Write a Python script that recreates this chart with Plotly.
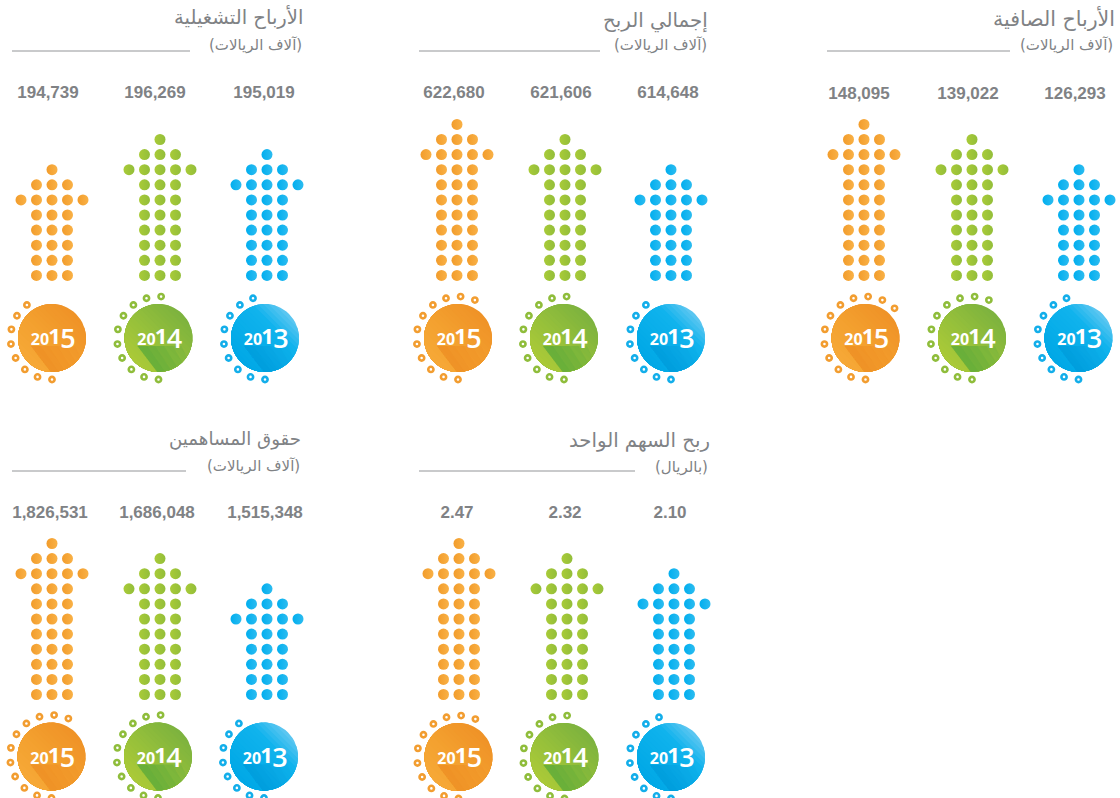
import math
import plotly.graph_objects as go

# ---------- data ----------
years = ["2015", "2014", "2013"]
net_profit = [148095, 139022, 126293]
gross_profit = [622680, 621606, 614648]
operating_profit = [194739, 196269, 195019]
eps = [2.47, 2.32, 2.10]
equity = [1826531, 1686048, 1515348]

net_rows = [8, 7, 5]
gross_rows = [8, 7, 5]
operating_rows = [5, 7, 6]
eps_rows = [8, 7, 6]
equity_rows = [8, 7, 5]

net_rings = [12, 11, 9]
gross_rings = [11, 10, 8]
operating_rings = [8, 10, 9]
eps_rings = [11, 10, 9]
equity_rings = [11, 10, 8]

title_net = "الأرباح الصافية"
title_gross = "إجمالي الربح"
title_operating = "الأرباح التشغيلية"
title_eps = "ربح السهم الواحد"
title_equity = "حقوق المساهمين"
unit_thousands = "(آلاف الريالات)"
unit_riyal = "(بالريال)"

# ---------- layout constants ----------
GREY = "#808285"
LINE = "#939598"
AR_FONT = "DejaVu Sans"
UNIT_SIZE = 15

panels = [
    dict(vals=net_profit, fmt="{:,}", rows=net_rows, rings=net_rings, title=title_net, unit=unit_thousands,
         dots=[864, 972, 1079], circ=[865.5, 972, 1078.5], lab=[859, 968, 1075], laby=94.5,
         base=275.4, cy=338, tx=1117, ty=18, ux=1115, uy=45, line=(827, 1010, 51), ts=20.5),
    dict(vals=gross_profit, fmt="{:,}", rows=gross_rows, rings=gross_rings, title=title_gross, unit=unit_thousands,
         dots=[457, 565, 671], circ=[458, 564, 671], lab=[454, 561, 668], laby=93.5,
         base=275.4, cy=338, tx=710, ty=21, ux=709, uy=45, line=(419, 600, 51), ts=19.8),
    dict(vals=operating_profit, fmt="{:,}", rows=operating_rows, rings=operating_rings, title=title_operating, unit=unit_thousands,
         dots=[52, 160, 267], circ=[52, 158.5, 265], lab=[48, 155, 264], laby=93.5,
         base=275.4, cy=338, tx=305, ty=17, ux=304, uy=45, line=(12, 190, 51), ts=19.6),
    dict(vals=eps, fmt="{:.2f}", rows=eps_rows, rings=eps_rings, title=title_eps, unit=unit_riyal,
         dots=[459, 567, 674], circ=[458.5, 564.5, 671], lab=[457, 565, 670], laby=513.5,
         base=694.5, cy=757, tx=712, ty=440, ux=710, uy=467, line=(419, 635, 471), ts=19.7),
    dict(vals=equity, fmt="{:,}", rows=equity_rows, rings=equity_rings, title=title_equity, unit=unit_thousands,
         dots=[52, 160, 267], circ=[51.5, 158, 264], lab=[50, 157, 265], laby=513.5,
         base=694.5, cy=756.5, tx=303, ty=439, ux=302, uy=466, line=(12, 186, 471), ts=18.2),
]

dot_style = [("#f29c2b", "#f9b146"), ("#a9cb38", "#93be3a"), ("#00aeef", "#2cbcf0")]
ring_color = ["#f29d30", "#8fbd3b", "#13aeea"]
stops = [
    [(0, "#ef9227"), (.5, "#f39f2e"), (1, "#f6a937")],
    [(0, "#7cb23e"), (.5, "#94bf3b"), (1, "#abca38")],
    [(0, "#62c8f1"), (.3, "#10b3ed"), (1, "#00a8e6")],
]
shadow = ["rgba(232,124,24,0.09)", "rgba(70,160,60,0.16)", "rgba(0,140,215,0.09)"]

DOT_DX, DOT_DY, R, RING_R, RING_STEP, BANDS = 15.5, 15.1, 34, 41.5, 20.4, 18


def mix(t, st):
    for (a, ca), (b, cb) in zip(st, st[1:]):
        if t <= b:
            f = (t - a) / (b - a)
            c = [round(int(ca[i:i + 2], 16) * (1 - f) + int(cb[i:i + 2], 16) * f) for i in (1, 3, 5)]
            return "rgb(%d,%d,%d)" % tuple(c)
    return st[-1][1]


fig = go.Figure()


def add_fill(xs, ys, color):
    fig.add_trace(go.Scatter(x=xs, y=ys, mode="lines", fill="toself", fillcolor=color,
                             line=dict(width=0), hoverinfo="skip", showlegend=False))


def add_text(xs, ys, texts, size, family, color, weight="normal"):
    fig.add_trace(go.Scatter(x=xs, y=ys, text=texts, mode="text", textposition="middle center",
                             textfont=dict(size=size, family=family, color=color, weight=weight),
                             hoverinfo="skip", showlegend=False))


# big circles: stepped diagonal gradient drawn back to front
for yi in range(3):
    centres = [(p["circ"][yi], p["cy"]) for p in panels]
    dirn = math.radians(135)  # towards the lower left
    for k in range(BANDS):
        t = k / BANDS
        alpha = math.acos(max(-1, min(1, 2 * t - 1)))
        xs, ys = [], []
        for cx, cy in centres:
            for j in range(61):
                a = dirn - alpha + 2 * alpha * j / 60
                xs.append(cx + R * math.cos(a))
                ys.append(cy + R * math.sin(a))
            xs.append(None)
            ys.append(None)
        add_fill(xs, ys, mix((k + .5) / BANDS, stops[yi]))
    # long shadow behind the year
    for w in (1.0, .8, .6, .4, .22):
        xs, ys = [], []
        for cx, cy in centres:
            x_end = -21 + 44 * w
            a0 = math.radians(92)
            a1 = math.radians(92 - 58 * w)
            pts = [(-21, 8), (x_end, 8)]
            pts += [(R * math.cos(a1 + (a0 - a1) * j / 12), R * math.sin(a1 + (a0 - a1) * j / 12)) for j in range(13)]
            xs += [cx + q[0] for q in pts] + [None]
            ys += [cy + q[1] for q in pts] + [None]
        add_fill(xs, ys, shadow[yi])

# arrows made of dots, and rings
for yi in range(3):
    dx, dy, rx, ry = [], [], [], []
    for p in panels:
        n = p["rows"][yi]
        widths = [3] * n + [5, 3, 1]
        for r, w in enumerate(widths):
            for c in range(w):
                dx.append(p["dots"][yi] + (c - (w - 1) / 2) * DOT_DX)
                dy.append(p["base"] - r * DOT_DY)
        for k in range(p["rings"][yi]):
            a = math.radians(-180 + RING_STEP * k)
            rx.append(p["circ"][yi] + RING_R * math.sin(a))
            ry.append(p["cy"] - RING_R * math.cos(a))
    fig.add_trace(go.Scatter(x=dx, y=dy, mode="markers", hoverinfo="skip", showlegend=False,
                             marker=dict(size=11, color=dot_style[yi][0], line=dict(width=0),
                                         gradient=dict(type="horizontal", color=dot_style[yi][1]))))
    fig.add_trace(go.Scatter(x=rx, y=ry, mode="markers", hoverinfo="skip", showlegend=False,
                             marker=dict(size=5.2, color="white", line=dict(width=2.6, color=ring_color[yi]))))

# year text in the circles
for yi in range(3):
    y = years[yi]
    cxs = [p["circ"][yi] for p in panels]
    cys = [p["cy"] for p in panels]
    add_text([c - 12 for c in cxs], [c + 3 for c in cys], [y[:2]] * 5, 16, "Open Sans", "white", "bold")
    add_text([c + 2.5 for c in cxs], [c + 0.5 for c in cys], [y[2]] * 5, 22, "Open Sans", "white", "bold")
    add_text([c + 16 for c in cxs], [c + 3.5 for c in cys], [y[3]] * 5, 27, "Open Sans", "white", 600)

# value labels, titles, rules
shapes, annos = [], []
for p in panels:
    add_text(p["lab"], [p["laby"]] * 3, [p["fmt"].format(v) for v in p["vals"]], 17,
             "Liberation Sans", GREY, "bold")
    x0, x1, yy = p["line"]
    shapes.append(dict(type="line", x0=x0, x1=x1, y0=yy, y1=yy, xref="x", yref="y",
                       line=dict(color=LINE, width=1)))
    annos.append(dict(x=p["tx"], y=p["ty"], text=p["title"], xanchor="right", yanchor="middle", showarrow=False,
                      font=dict(family=AR_FONT, size=p["ts"], color=GREY), xref="x", yref="y"))
    annos.append(dict(x=p["ux"], y=p["uy"], text=p["unit"], xanchor="right", yanchor="middle", showarrow=False,
                      font=dict(family=AR_FONT, size=UNIT_SIZE, color=GREY), xref="x", yref="y"))

fig.update_layout(
    width=1120, height=798, margin=dict(l=0, r=0, t=0, b=0), showlegend=False,
    paper_bgcolor="white", plot_bgcolor="white", shapes=shapes, annotations=annos,
    xaxis=dict(range=[0, 1120], visible=False, fixedrange=True),
    yaxis=dict(range=[798, 0], visible=False, fixedrange=True),
)
fig.write_html("out.html", config={"displayModeBar": False},
               post_script="document.body.style.margin='0';")
